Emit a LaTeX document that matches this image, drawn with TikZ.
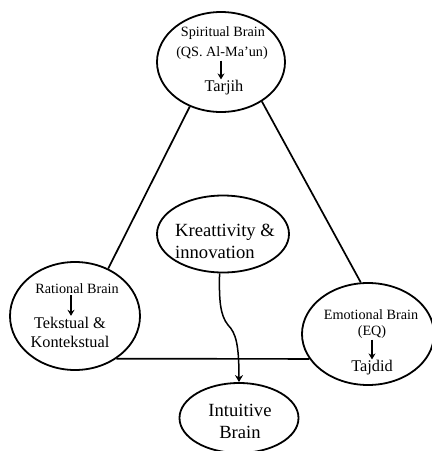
\documentclass[tikz,border=0pt]{standalone}
\usepackage{fontspec}
\setmainfont{Liberation Serif}
\usetikzlibrary{shapes.geometric,arrows.meta}
\begin{document}
\begin{tikzpicture}[x=1pt,y=-1pt,
  ell/.style={draw,ellipse,line width=1.8pt,inner sep=0pt},
  lbl/.style={inner sep=1pt,align=center,text=black},
  small/.style={lbl,font=\fontsize{14.2}{16}\selectfont},
  mid/.style={lbl,font=\fontsize{16.3}{19.5}\selectfont},
  big/.style={lbl,font=\fontsize{18.6}{22}\selectfont},
  edge/.style={line width=1.7pt},
  sarrow/.style={line width=1.7pt,-{Stealth[length=6pt,width=7pt]}},
  curvy/.style={line width=1.5pt,-{Stealth[length=7pt,width=8pt]}}]
\useasboundingbox (0,0) rectangle (432,451);
% ellipses
\node[ell,minimum width=128pt,minimum height=100pt] (spir) at (221,62) {};
\node[ell,minimum width=130pt,minimum height=108pt] (rat) at (75,316) {};
\node[ell,minimum width=132pt,minimum height=102pt] (emo) at (368,334) {};
\node[ell,minimum width=132pt,minimum height=77pt] (kre) at (223,234) {};
\node[ell,minimum width=119pt,minimum height=70pt] (intu) at (239,418) {};
% triangle
\draw[edge] (spir.235) -- (rat.55);
\draw[edge] (spir.-44) -- (emo.98);
\draw[edge] (rat.-46) -- (emo.203);
% spiritual texts
\node[small] (sp1) at (223,33) {Spiritual Brain};
\node[small] (sp2) at (222,53) {(QS. Al-Ma’un)};
\node[mid] (sp3) at (224,88) {Tarjih};
\draw[sarrow] ([xshift=-1pt]sp2.south) -- ([xshift=-1pt]sp2.south |- sp3.north);
% rational texts
\node[small] (ra1) at (77,289) {Rational Brain};
\node[mid] (ra2) at (70,332.5) {Tekstual \&\\Kontekstual};
\draw[sarrow] ([xshift=-6pt]ra1.south) -- ([xshift=-6pt]ra1.south |- ra2.north);
% emotional texts
\node[small] (em1) at (371,315) {Emotional Brain};
\node[small] (em2) at (372,332) {(EQ)};
\node[mid] (em3) at (372,368) {Tajdid};
\draw[sarrow] (em2.south) -- (em2.south |- em3.north);
% creativity
\node[big,align=left,anchor=west] (kt) at (174,241) {Kreattivity \&\\innovation};
% intuitive
\node[big] (it) at (240,421.5) {Intuitive\\Brain};
% curvy arrow
\draw[curvy] (kre.265) .. controls (219,300) and (220,315) .. (228,325)
  .. controls (236,333) and (239,345) .. (intu.north);
\end{tikzpicture}
\end{document}
